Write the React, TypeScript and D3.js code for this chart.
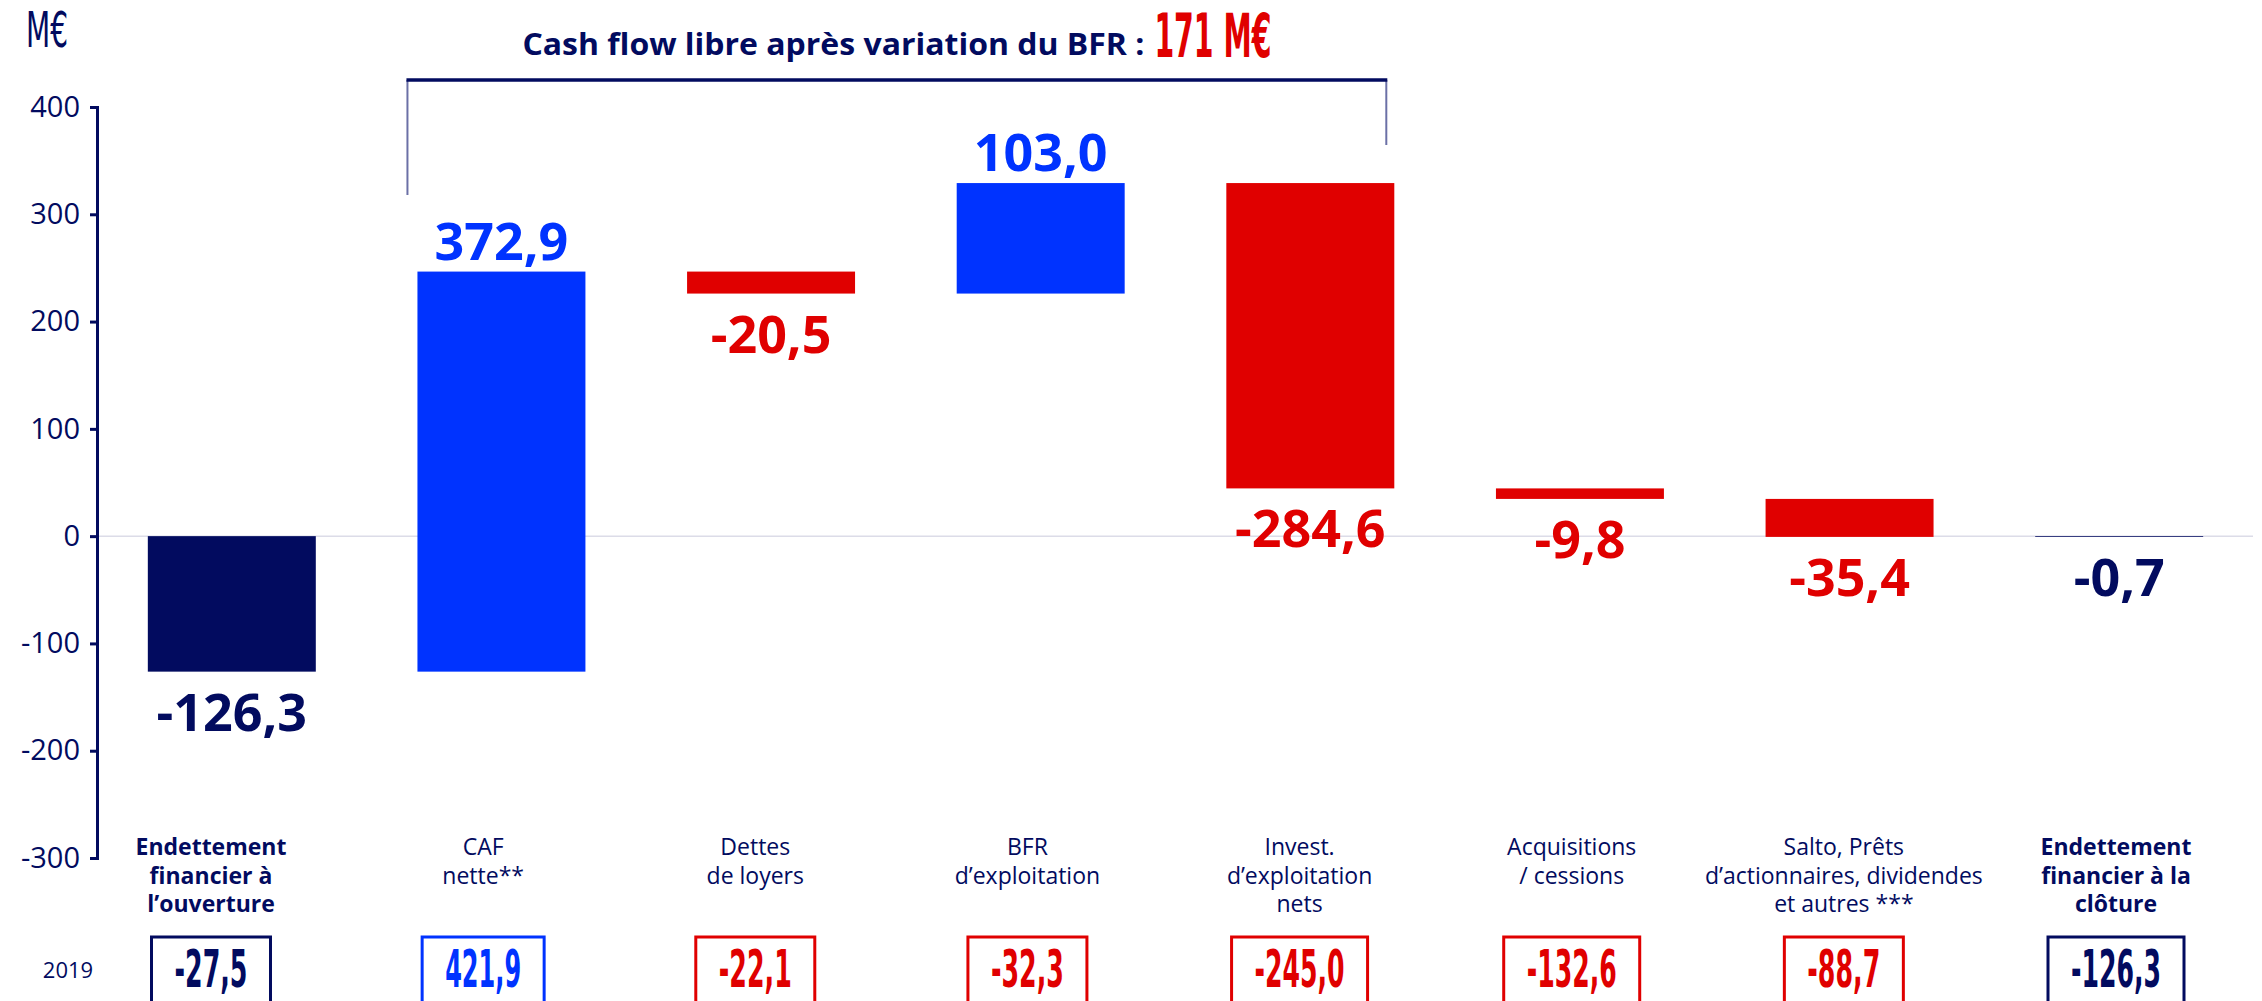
import React, { useEffect, useRef } from 'react';
import * as d3 from 'd3';

// Category labels, one entry per line
const categoryLines: string[][] = [
    ['Endettement', 'financier à', 'l’ouverture'],
    ['CAF', 'nette**'],
    ['Dettes', 'de loyers'],
    ['BFR', 'd’exploitation'],
    ['Invest.', 'd’exploitation', 'nets'],
    ['Acquisitions', '/ cessions'],
    ['Salto, Prêts', 'd’actionnaires, dividendes', 'et autres ***'],
    ['Endettement', 'financier à la', 'clôture'],
];
const boldCategories = [true, false, false, false, false, false, false, true];

// Waterfall values (M€)
const openingDebt = -126.3;
const flowValues = [372.9, -20.5, 103.0, -284.6, -9.8, -35.4];
const closingDebt = -0.7;

// 2019 comparison row
const rowLabel = '2019';
const values2019 = [-27.5, 421.9, -22.1, -32.3, -245.0, -132.6, -88.7, -126.3];

const yTickValues = [400, 300, 200, 100, 0, -100, -200, -300];
const unitLabel = 'M€';
const titleText = 'Cash flow libre après variation du BFR :';
const titleFigure = '171 M€';

const NAVY = '#020b5f';
const BLUE = '#0033ff';
const RED = '#e00000';
const WIDTH = 2262;
const HEIGHT = 1001;
const SANS = '"Open Sans", "Noto Sans", sans-serif';
const CONDENSED = '"Liberation Sans Narrow", "DejaVu Sans Condensed", "Roboto", sans-serif';

const fmt = (v: number) => v.toFixed(1).replace('.', ',');

// approximate width of the condensed figures used in the boxes
const condensedWidth = (s: string) =>
    s.split('').reduce((w, c) => w + (c === ',' ? 8 : c === '-' ? 14 : 17), 0);

const App: React.FC = () => {
    const svgRef = useRef<SVGSVGElement>(null);

    useEffect(() => {
        if (!svgRef.current) return;
        const svg = d3.select(svgRef.current);
        svg.selectAll('*').remove();

        const cats = categoryLines.map(l => l.join(' '));
        const lastIdx = cats.length - 1;

        const y = d3.scaleLinear().domain([-300, 400]).range([858, 107]);
        const x = d3.scaleBand<string>()
            .domain(cats)
            .range([97, 2254])
            .paddingInner(0.377)
            .paddingOuter(0.1885);
        const xRow = d3.scalePoint<string>().domain(cats).range([211, 2116]);

        // Build the waterfall segments
        type Seg = { cat: string; y0: number; y1: number; value: number; color: string };
        const segs: Seg[] = [{ cat: cats[0], y0: 0, y1: openingDebt, value: openingDebt, color: NAVY }];
        let run = openingDebt;
        flowValues.forEach((v, i) => {
            segs.push({ cat: cats[i + 1], y0: run, y1: run + v, value: v, color: v >= 0 ? BLUE : RED });
            run += v;
        });
        segs.push({ cat: cats[lastIdx], y0: 0, y1: closingDebt, value: closingDebt, color: NAVY });

        // Zero line
        svg.append('line')
            .attr('x1', 97).attr('x2', 2253)
            .attr('y1', y(0)).attr('y2', y(0))
            .attr('stroke', '#dcdce8')
            .attr('stroke-width', 1.5);

        // Bars
        svg.selectAll('.bar')
            .data(segs)
            .enter()
            .append('rect')
            .attr('class', 'bar')
            .attr('x', d => x(d.cat) as number)
            .attr('y', d => y(Math.max(d.y0, d.y1)))
            .attr('width', x.bandwidth())
            .attr('height', d => Math.abs(y(d.y0) - y(d.y1)))
            .attr('fill', d => d.color);

        // Value labels
        svg.selectAll('.val')
            .data(segs)
            .enter()
            .append('text')
            .attr('class', 'val')
            .attr('x', d => (x(d.cat) as number) + x.bandwidth() / 2)
            .attr('y', d => d.value >= 0 ? y(Math.max(d.y0, d.y1)) - 12 : y(Math.min(d.y0, d.y1)) + 59)
            .attr('text-anchor', 'middle')
            .attr('font-family', SANS)
            .attr('font-weight', 'bold')
            .attr('font-size', 52)
            .attr('fill', d => d.color)
            .text(d => fmt(d.value));

        // Y axis
        const axis = svg.append('g')
            .attr('transform', 'translate(97,0)')
            .call(d3.axisLeft(y)
                .tickValues(yTickValues)
                .tickSize(7)
                .tickSizeOuter(7)
                .tickPadding(10)
                .tickFormat(d => String(d)));
        axis.select('.domain').attr('stroke', NAVY).attr('stroke-width', 3);
        axis.selectAll('.tick line').attr('stroke', NAVY).attr('stroke-width', 3);
        axis.selectAll('.tick text')
            .attr('fill', NAVY)
            .attr('font-size', 29)
            .attr('font-family', SANS);

        // Unit label
        svg.append('text')
            .attr('x', 26).attr('y', 47)
            .attr('font-family', CONDENSED)
            .attr('font-size', 50)
            .attr('textLength', 42)
            .attr('lengthAdjust', 'spacingAndGlyphs')
            .attr('fill', NAVY)
            .text(unitLabel);

        // Bracket over the free cash flow items
        const bx1 = (x(cats[1]) as number) - 10;
        const bx2 = (x(cats[4]) as number) + x.bandwidth() - 8;
        svg.append('line').attr('x1', bx1).attr('x2', bx1).attr('y1', 80).attr('y2', 195)
            .attr('stroke', '#6b70a6').attr('stroke-width', 2);
        svg.append('line').attr('x1', bx2).attr('x2', bx2).attr('y1', 80).attr('y2', 145)
            .attr('stroke', '#6b70a6').attr('stroke-width', 2);
        svg.append('line').attr('x1', bx1 - 1).attr('x2', bx2 + 1).attr('y1', 80).attr('y2', 80)
            .attr('stroke', NAVY).attr('stroke-width', 3.5);

        // Title
        const cx = (bx1 + bx2) / 2;
        const t1w = 622, gap = 10, t2w = 117;
        const tx = cx - (t1w + gap + t2w) / 2;
        svg.append('text')
            .attr('x', tx).attr('y', 55)
            .attr('font-family', SANS)
            .attr('font-weight', 'bold')
            .attr('font-size', 31)
            .attr('textLength', t1w)
            .attr('lengthAdjust', 'spacingAndGlyphs')
            .attr('fill', NAVY)
            .text(titleText);
        svg.append('text')
            .attr('x', tx + t1w + gap).attr('y', 57)
            .attr('font-family', CONDENSED)
            .attr('font-weight', 'bold')
            .attr('font-size', 60)
            .attr('textLength', t2w)
            .attr('lengthAdjust', 'spacingAndGlyphs')
            .attr('fill', RED)
            .text(titleFigure);

        // Category labels
        cats.forEach((c, i) => {
            const t = svg.append('text')
                .attr('text-anchor', 'middle')
                .attr('font-family', SANS)
                .attr('font-size', 23)
                .attr('font-weight', boldCategories[i] ? 'bold' : 'normal')
                .attr('fill', NAVY);
            categoryLines[i].forEach((line, j) => {
                t.append('tspan')
                    .attr('x', xRow(c) as number)
                    .attr('y', 855 + j * 28.5)
                    .text(line);
            });
        });

        // 2019 row
        svg.append('text')
            .attr('x', 68).attr('y', 978)
            .attr('text-anchor', 'middle')
            .attr('font-family', SANS)
            .attr('font-size', 22)
            .attr('fill', NAVY)
            .text(rowLabel);

        values2019.forEach((v, i) => {
            const s = fmt(v);
            const tw = condensedWidth(s);
            const bw = tw + 46;
            const cxr = xRow(cats[i]) as number;
            const color = i === 0 || i === lastIdx ? NAVY : v >= 0 ? BLUE : RED;
            svg.append('rect')
                .attr('x', cxr - bw / 2).attr('y', 937)
                .attr('width', bw).attr('height', 80)
                .attr('fill', '#fff')
                .attr('stroke', color)
                .attr('stroke-width', 3);
            svg.append('text')
                .attr('x', cxr).attr('y', 987)
                .attr('text-anchor', 'middle')
                .attr('font-family', CONDENSED)
                .attr('font-weight', 'bold')
                .attr('font-size', 52)
                .attr('textLength', tw)
                .attr('lengthAdjust', 'spacingAndGlyphs')
                .attr('fill', color)
                .text(s);
        });
    }, []);

    return (
        <svg
            ref={svgRef}
            width={WIDTH}
            height={HEIGHT}
            style={{ position: 'absolute', left: 0, top: 0, display: 'block', background: '#fff' }}
        />
    );
};

export default App;
